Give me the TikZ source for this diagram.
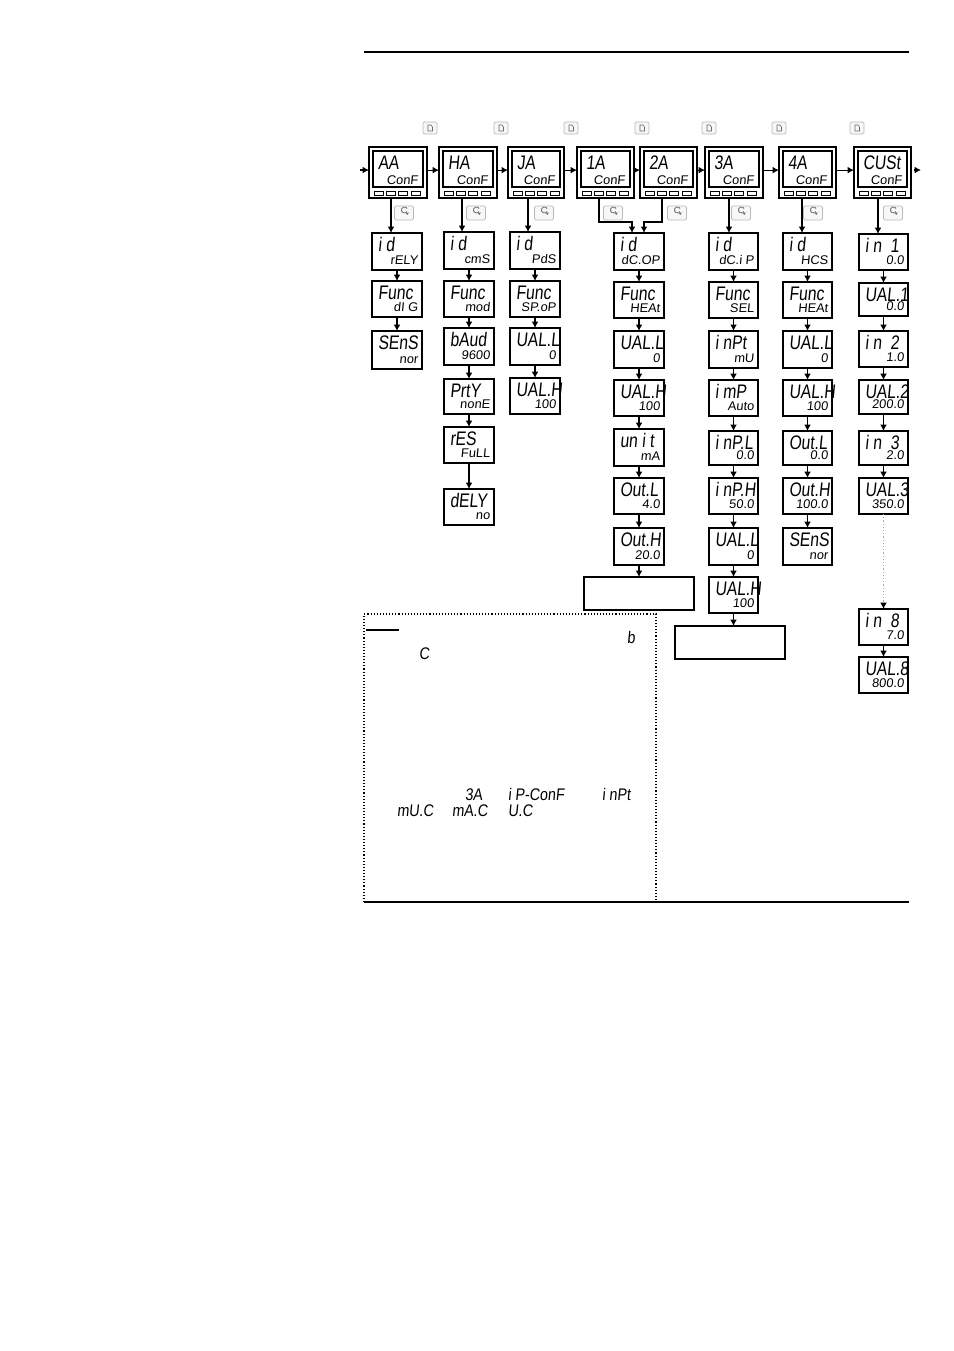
\documentclass[tikz,border=0pt]{standalone}
\usepackage{fontspec}
\usetikzlibrary{arrows.meta}
\newfontfamily\segbigf[FakeStretch=0.8,FakeSlant=0.1]{Liberation Sans}
\newfontfamily\segsmf[FakeStretch=1.02,FakeSlant=0.1]{Liberation Sans}
\newfontfamily\segnotef[FakeStretch=0.85,FakeSlant=0.1]{Liberation Sans}
\tikzset{
  disp/.style={draw=black,line width=0.55pt,fill=white,inner sep=0pt,outer sep=0pt},
  screen/.style={draw=black,line width=0.55pt,inner sep=0pt,outer sep=0pt},
  bigt/.style={inner sep=0pt,outer sep=0pt,anchor=base west,font=\segbigf\fontsize{9.8}{10}\selectfont},
  smt/.style={inner sep=0pt,outer sep=0pt,anchor=base east,font=\segsmf\fontsize{6.3}{7}\selectfont},
  notet/.style={inner sep=0pt,outer sep=0pt,anchor=base west,font=\segnotef\fontsize{8.4}{9}\selectfont},
  arr/.style={-{Latex[length=3.2pt,width=3.4pt]},line width=0.6pt,black},
  keybox/.style={draw=gray!55,fill=gray!6,line width=0.4pt,rounded corners=0.7pt,inner sep=0pt,outer sep=0pt},
  keyglyph/.style={draw=gray!85!black,line width=0.3pt},
  rule/.style={line width=1pt,black},
}
% panel: name, left, top, right, bottom, big, small
\newcommand\panelbox[7]{%
  \pgfmathsetmacro\pw{(#4-#2)*0.5}\pgfmathsetmacro\ph{(#5-#3)*0.5}%
  \node[disp,minimum width=\pw pt,minimum height=\ph pt] (#1) at ({(#2+#4)/2},{(#3+#5)/2}) {};
  \pgfmathsetmacro\qw{(#4-#2-8)*0.5}%
  \node[screen,minimum width=\qw pt,minimum height=18pt] (#1s) at ({(#2+#4)/2},#3+22) {};
  \foreach \o/\k in {6/a,18/b,30/c,43/d}{
    \node[screen,minimum width=4.1pt,minimum height=2.4pt] (#1\k) at (#2+\o+4,#3+46.5) {};
  }
  \node[bigt] (#1t) at (#2+9,#3+22) {#6};
  \node[smt] (#1u) at (#4-9,#3+37) {#7};
}
% display: name, left, top, right, bottom, big, small
\newcommand\dbox[7]{%
  \pgfmathsetmacro\pw{(#4-#2)*0.5}\pgfmathsetmacro\ph{(#5-#3)*0.5}%
  \node[disp,minimum width=\pw pt,minimum height=\ph pt] (#1) at ({(#2+#4)/2},{(#3+#5)/2}) {};
  \node[bigt] (#1t) at (#2+6,#3+18) {#6};
  \node[smt] (#1u) at (#4-4,#5-6) {#7};
}
\newcommand\pagekey[3]{%
  \node[keybox,minimum width=7pt,minimum height=6pt] (#1) at (#2,#3) {};
  \draw[keyglyph] (#2-2,#3+3) -- (#2-2,#3-3) -- (#2+1,#3-3) -- (#2+2.5,#3-1) -- (#2+2.5,#3+3) -- cycle;
}
\newcommand\scrollkey[3]{%
  \node[keybox,minimum width=9.5pt,minimum height=7pt] (#1) at (#2,#3) {};
  \draw[keyglyph,line width=0.4pt] (#2+3,#3-1.5) arc[start angle=30,end angle=330,radius=3];
  \fill[gray!85!black] (#2+1.5,#3-0.5) -- (#2+5,#3-0.5) -- (#2+3.2,#3+2) -- cycle;
}
\begin{document}
\begin{tikzpicture}[x=0.5pt,y=-0.5pt]
\useasboundingbox (0,0) rectangle (954,1351);
% rules
\coordinate (rtl) at (364,52); \coordinate (rtr) at (909,52);
\coordinate (rbl) at (364,902); \coordinate (rbr) at (909,902);
\draw[rule] (rtl) -- (rtr);
\draw[rule] (rbl) -- (rbr);
% note box
\draw[black,line width=0.55pt,densely dotted] (364,902) -- (364,614) -- (656,614) -- (656,902);
\draw[black,line width=1pt] (366,630) -- (399,630);
\node[notet] (n1) at (627,643) {b};
\node[notet] (n2) at (419,659) {C};
\node[notet] (n3) at (465,800) {3A};
\node[notet] (n4) at (508,800) {i P-ConF};
\node[notet] (n5) at (602,800) {i nPt};
\node[notet] (n6) at (397,816) {mU.C};
\node[notet] (n7) at (452,816) {mA.C};
\node[notet] (n8) at (508,816) {U.C};
% keys
\pagekey{ka}{430}{128}\pagekey{kb}{501}{128}\pagekey{kc}{571}{128}\pagekey{kd}{642}{128}
\pagekey{ke}{709}{128}\pagekey{kf}{779}{128}\pagekey{kg}{857}{128}
\scrollkey{sa}{404}{213}\scrollkey{sb}{476}{213}\scrollkey{sc}{544}{213}\scrollkey{sd}{613}{213}
\scrollkey{se}{677}{213}\scrollkey{sf}{741}{213}\scrollkey{sg}{813}{213}\scrollkey{sh}{893}{213}
% panels
\panelbox{pa}{369}{147}{427}{198}{AA}{ConF}
\panelbox{pb}{439}{147}{497}{198}{HA}{ConF}
\panelbox{pc}{508}{147}{564}{198}{JA}{ConF}
\panelbox{pd}{577}{147}{634}{198}{1A}{ConF}
\panelbox{pe}{640}{147}{697}{198}{2A}{ConF}
\panelbox{pf}{705}{147}{763}{198}{3A}{ConF}
\panelbox{pg}{779}{147}{836}{198}{4A}{ConF}
\panelbox{ph}{854}{147}{911}{198}{CUSt}{ConF}
% AA column
\dbox{a1}{372}{233}{422}{270}{i d}{rELY}
\dbox{a2}{372}{281}{422}{317}{Func}{dI G}
\dbox{a3}{372}{331}{422}{369}{SEnS}{nor}
% HA column
\dbox{b1}{444}{232}{494}{269}{i d}{cmS}
\dbox{b2}{444}{281}{494}{317}{Func}{mod}
\dbox{b3}{444}{328}{494}{365}{bAud}{9600}
\dbox{b4}{444}{379}{494}{414}{PrtY}{nonE}
\dbox{b5}{444}{427}{494}{463}{rES}{FuLL}
\dbox{b6}{444}{489}{494}{525}{dELY}{no}
% JA column
\dbox{c1}{510}{232}{560}{269}{i d}{PdS}
\dbox{c2}{510}{281}{560}{317}{Func}{SP.oP}
\dbox{c3}{510}{328}{560}{365}{UAL.L}{0}
\dbox{c4}{510}{378}{560}{414}{UAL.H}{100}
% 1A/2A column
\dbox{d1}{614}{233}{664}{270}{i d}{dC.OP}
\dbox{d2}{614}{282}{664}{318}{Func}{HEAt}
\dbox{d3}{614}{331}{664}{368}{UAL.L}{0}
\dbox{d4}{614}{380}{664}{416}{UAL.H}{100}
\dbox{d5}{614}{429}{664}{466}{un i t}{mA}
\dbox{d6}{614}{478}{664}{514}{Out.L}{4.0}
\dbox{d7}{614}{528}{664}{565}{Out.H}{20.0}
\node[disp,minimum width=55pt,minimum height=16.5pt] (d8) at (639,593.5) {};
% 3A column
\dbox{f1}{709}{233}{758}{270}{i d}{dC.i P}
\dbox{f2}{709}{282}{758}{318}{Func}{SEL}
\dbox{f3}{709}{331}{758}{368}{i nPt}{mU}
\dbox{f4}{709}{380}{758}{416}{i mP}{Auto}
\dbox{f5}{709}{431}{758}{465}{i nP.L}{0.0}
\dbox{f6}{709}{478}{758}{514}{i nP.H}{50.0}
\dbox{f7}{709}{528}{758}{565}{UAL.L}{0}
\dbox{f8}{709}{577}{758}{613}{UAL.H}{100}
\node[disp,minimum width=55pt,minimum height=16.5pt] (f9) at (730,642.5) {};
% 4A column
\dbox{g1}{783}{233}{832}{270}{i d}{HCS}
\dbox{g2}{783}{282}{832}{318}{Func}{HEAt}
\dbox{g3}{783}{331}{832}{368}{UAL.L}{0}
\dbox{g4}{783}{380}{832}{416}{UAL.H}{100}
\dbox{g5}{783}{431}{832}{465}{Out.L}{0.0}
\dbox{g6}{783}{478}{832}{514}{Out.H}{100.0}
\dbox{g7}{783}{528}{832}{565}{SEnS}{nor}
% CUST column
\dbox{h1}{859}{234}{908}{270}{i n\ \ 1}{0.0}
\dbox{h2}{859}{283}{908}{316}{UAL.1}{0.0}
\dbox{h3}{859}{331}{908}{367}{i n\ \ 2}{1.0}
\dbox{h4}{859}{380}{908}{414}{UAL.2}{200.0}
\dbox{h5}{859}{431}{908}{465}{i n\ \ 3}{2.0}
\dbox{h6}{859}{478}{908}{514}{UAL.3}{350.0}
\dbox{h7}{859}{609}{908}{645}{i n\ \ 8}{7.0}
\dbox{h8}{859}{657}{908}{693}{UAL.8}{800.0}
% horizontal connectors
\coordinate (inl) at (360,170);
\coordinate (outs) at (914,170);
\coordinate (oute) at (921,170);
\draw[arr] (inl) -- (inl -| pa.west);
\foreach \u/\v in {pa/pb,pb/pc,pc/pd,pd/pe,pe/pf,pf/pg,pg/ph}{
  \draw[arr] ([yshift=1.2pt]\u.east) -- ([yshift=1.2pt]\v.west);
}
\draw[arr] (outs) -- (oute);
% from panels to columns
\draw[arr] ([xshift=-3.5pt]pa.south) -- ([xshift=-3pt]a1.north);
\draw[arr] ([xshift=-3pt]pb.south) -- ([xshift=-3.5pt]b1.north);
\draw[arr] ([xshift=-4pt]pc.south) -- ([xshift=-3.5pt]c1.north);
\coordinate (ja) at (599,222); \coordinate (jb) at (662,222);
\draw[arr] ([xshift=-3.25pt]pd.south) -- (ja) -| ([xshift=-3.5pt]d1.north);
\draw[arr,line width=0.9pt] ([xshift=-3.25pt]pe.south) -- (jb) -| ([xshift=2.5pt]d1.north);
\draw[arr] ([xshift=-2.5pt]pf.south) -- ([xshift=-2.25pt]f1.north);
\draw[arr] ([xshift=-2.75pt]pg.south) -- ([xshift=-2.75pt]g1.north);
\draw[arr] ([xshift=-2.25pt]ph.south) -- ([xshift=-2.75pt]h1.north);
% column chains
\foreach \u/\v in {a1/a2,a2/a3,b1/b2,b2/b3,b3/b4,b4/b5,b5/b6,c1/c2,c2/c3,c3/c4,
  d1/d2,d2/d3,d3/d4,d4/d5,d5/d6,d6/d7,d7/d8,
  f1/f2,f2/f3,f3/f4,f4/f5,f5/f6,f6/f7,f7/f8,
  g1/g2,g2/g3,g3/g4,g4/g5,g5/g6,g6/g7,
  h1/h2,h2/h3,h3/h4,h4/h5,h5/h6,h7/h8}{
  \draw[arr] (\u.south) -- (\v.north);
}
\draw[arr] (f8.south) -- (f8.south |- f9.north);
% dotted link in custom column
\draw[gray!70,line width=0.6pt,densely dotted] (h6.south) -- ([yshift=3pt]h7.north);
\draw[arr] ([yshift=3pt]h7.north) -- (h7.north);
\end{tikzpicture}
\end{document}
